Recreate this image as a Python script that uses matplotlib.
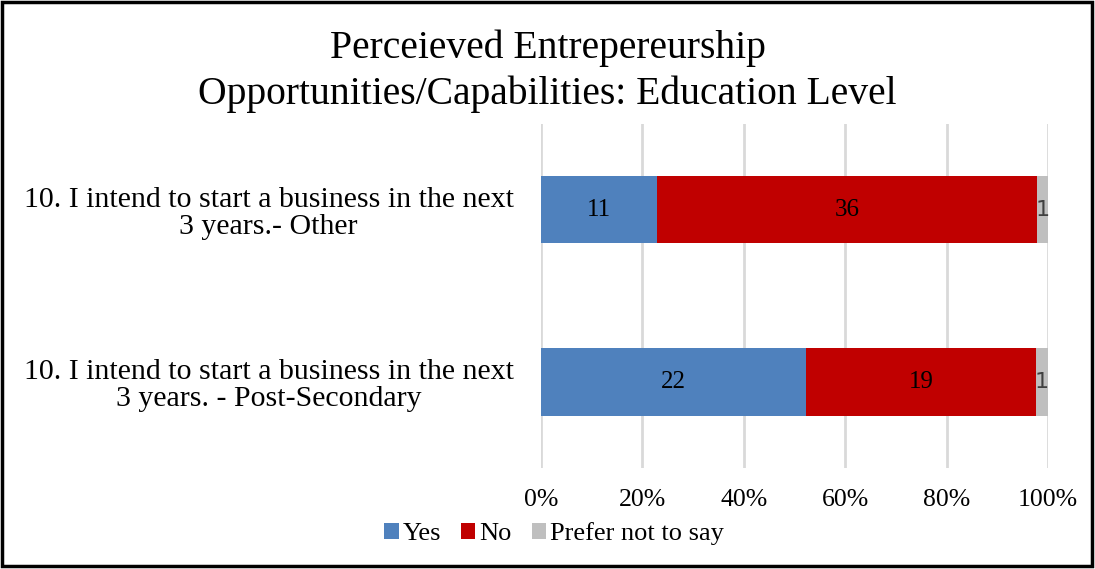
import matplotlib.pyplot as plt
from matplotlib.patches import Rectangle
import numpy as np

# chart data
categories = ["10. I intend to start a business in the next\n3 years. - Post-Secondary",
              "10. I intend to start a business in the next\n3 years.- Other"]
series_names = ["Yes", "No", "Prefer not to say"]
yes_counts = [22, 11]
no_counts = [19, 36]
prefer_counts = [1, 1]
tick_labels = ["0%", "20%", "40%", "60%", "80%", "100%"]

colors = ["#4F81BD", "#C00000", "#BFBFBF"]
plt.rcParams['font.family'] = ['Liberation Serif', 'DejaVu Serif']

fig = plt.figure(figsize=(10.95, 5.69), dpi=100)
ax = fig.add_axes([0.494, 0.1775, 0.463, 0.605])

counts = np.array([yes_counts, no_counts, prefer_counts], dtype=float)
totals = counts.sum(axis=0)
shares = counts / totals
y = np.arange(len(categories))

left = np.zeros(len(categories))
for i, name in enumerate(series_names):
    bars = ax.barh(y, shares[i], left=left, height=0.39, color=colors[i],
                   label=name, zorder=3)
    for j, b in enumerate(bars):
        cx = left[j] + shares[i][j] / 2
        if i == 2:
            ax.text(cx, y[j], str(int(counts[i][j])), ha='center', va='center',
                    fontsize=16, color='#404040', family='DejaVu Sans', zorder=4)
        else:
            ax.text(cx, y[j], str(int(counts[i][j])), ha='center', va='center',
                    fontsize=18, color='black', zorder=4)
    left += shares[i]

ax.set_xlim(0, 1)
ax.set_ylim(-0.5, 1.5)
ax.set_xticks(np.linspace(0, 1, 6))
ax.set_xticklabels(tick_labels, fontsize=18.5)
ax.set_yticks(y)
ax.set_yticklabels(categories, fontsize=21.5, ha='center', multialignment='center',
                   linespacing=1.05)
ax.tick_params(axis='y', pad=196, length=0)
ax.tick_params(axis='x', length=0, pad=15)
ax.grid(axis='x', color='#D9D9D9', linewidth=2, zorder=0)
for s in ax.spines.values():
    s.set_visible(False)

fig.suptitle("Perceieved Entrepereurship\nOpportunities/Capabilities: Education Level",
             x=0.5, y=0.948, fontsize=28.5, linespacing=1.3)

fig.legend(loc='center', bbox_to_anchor=(0.506, 0.062), ncol=3, frameon=False,
           fontsize=19, handlelength=0.55, handleheight=0.55, handletextpad=0.15,
           columnspacing=0.75)

fig.patches.append(Rectangle((0.002, 0.005), 0.995, 0.992, transform=fig.transFigure,
                             fill=False, edgecolor='black', linewidth=2.5))

fig.savefig("out.png", dpi=100)
